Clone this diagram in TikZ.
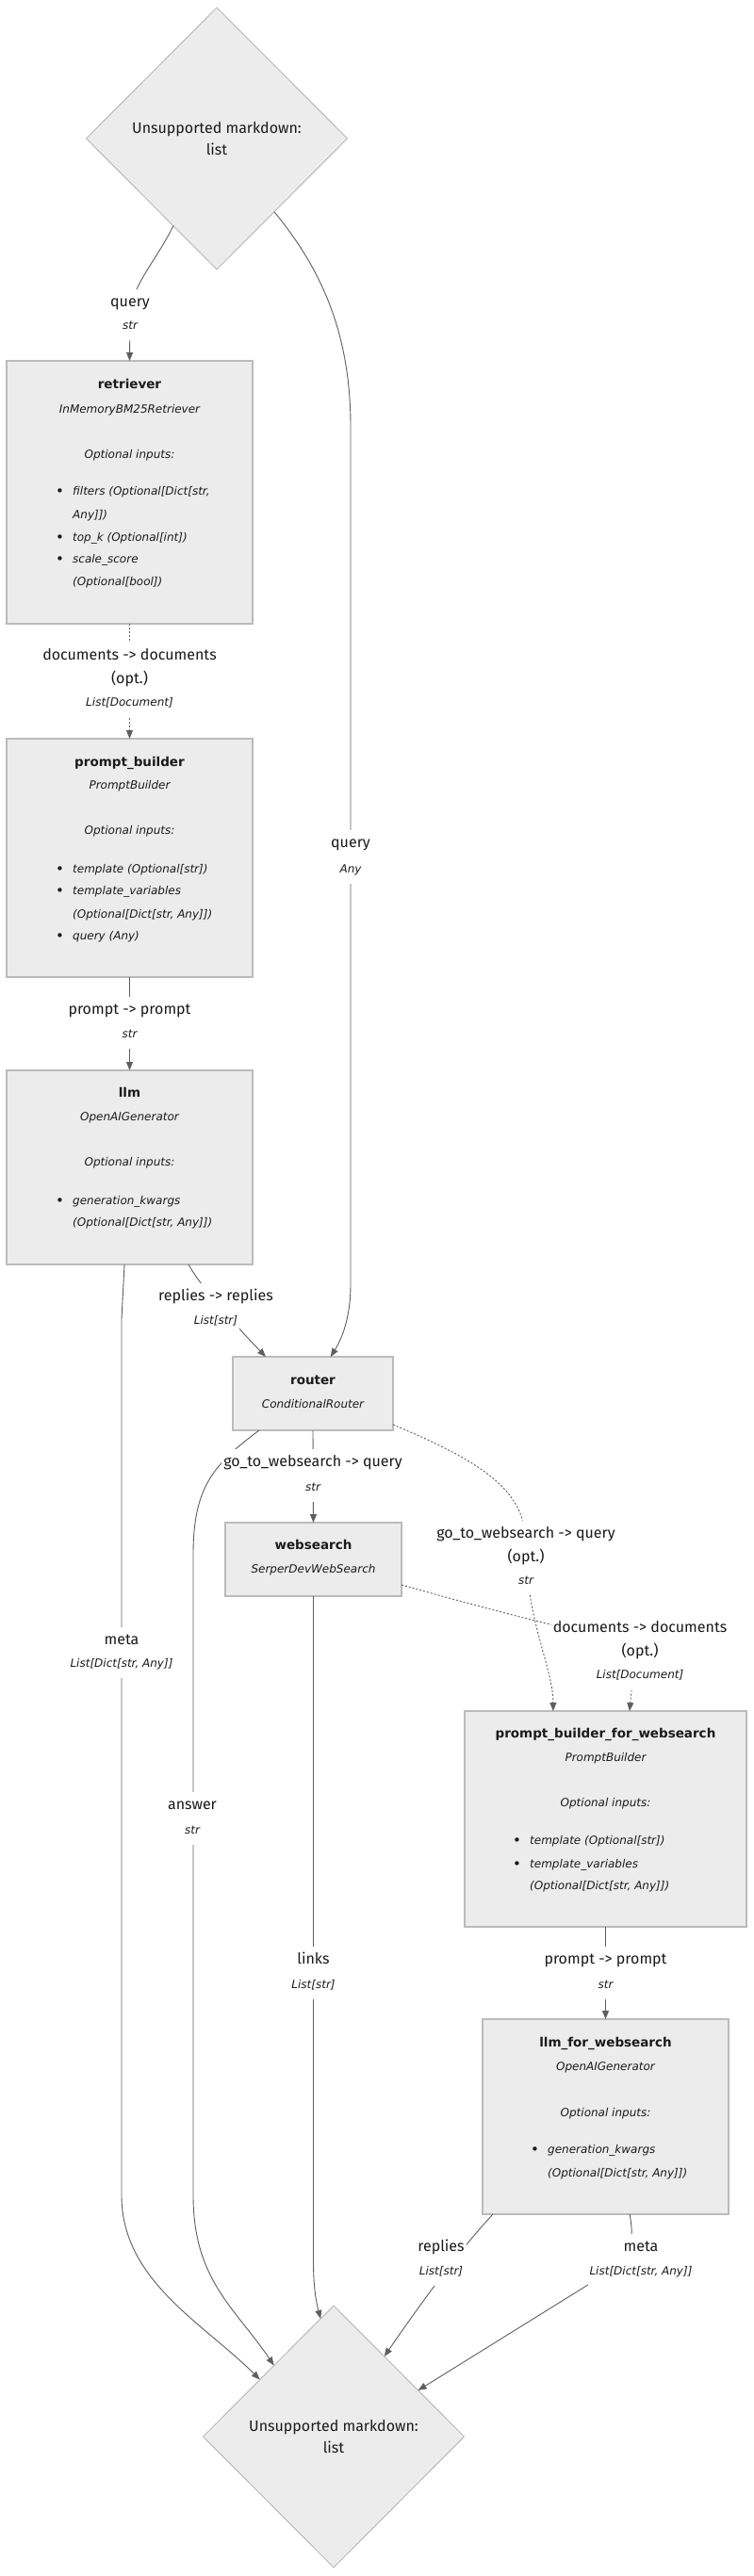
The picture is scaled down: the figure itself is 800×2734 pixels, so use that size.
\documentclass[tikz,border=0pt]{standalone}
\usepackage{fontspec}
\setmainfont{DejaVu Sans}
\newfontfamily\firafont{Fira Sans}
\usetikzlibrary{arrows.meta,shapes.geometric,calc}
\definecolor{nodefill}{HTML}{ECECEC}
\definecolor{nodeborder}{HTML}{BBBBBB}
\definecolor{edgecol}{HTML}{5F5F5F}
\definecolor{txt}{HTML}{1A1A1A}
\newcommand\myttl{\fontsize{13.5}{16}\selectfont\bfseries}
\newcommand\myit{\fontsize{12}{14}\selectfont\itshape}
\newcommand\mylbl{\firafont\fontsize{16}{23}\selectfont}
\newcommand\bul{\makebox[18pt][l]{\raisebox{-0.5pt}{\fontsize{15}{14}\selectfont\upshape •}}}
\begin{document}
\begin{tikzpicture}[x=1pt,y=-1pt,
  box/.style={draw=nodeborder, fill=nodefill, line width=1.3pt, rectangle, inner sep=0pt, outer sep=0pt},
  dia/.style={draw=nodeborder, fill=nodefill, line width=1pt, diamond, inner sep=0pt, outer sep=0pt,
     minimum width=277pt, minimum height=278pt, align=center, font=\mylbl, text=txt},
  ttl/.style={font=\myttl, text=txt, inner sep=0pt, anchor=mid},
  itc/.style={font=\myit, text=txt, inner sep=0pt, anchor=mid},
  itl/.style={font=\myit, text=txt, inner sep=0pt, anchor=mid west},
  lbl/.style={font=\mylbl, text=txt, fill=white, inner xsep=2pt, inner ysep=7pt, text height=12pt, text depth=5pt, anchor=mid},
  sublbl/.style={font=\myit, text=txt, fill=white, inner xsep=2pt, inner ysep=7pt, text height=12pt, text depth=4pt, anchor=mid},
  conn/.style={draw=edgecol, line width=0.9pt, -{Triangle[length=9pt,width=7pt]}},
  dconn/.style={conn, dash pattern=on 2pt off 2pt},
]
\useasboundingbox[fill=white] (0,0) rectangle (800,2734);

% ---------- nodes ----------
\node[dia] (dtop) at (230,147) {Unsupported markdown:\\list};
\node[dia] (dbot) at (354,2586) {Unsupported markdown:\\list};

\node[box, minimum width=261pt, minimum height=279pt] (retriever) at (137.5,522.5) {};
\node[box, minimum width=261pt, minimum height=253pt] (pb) at (137.5,910.5) {};
\node[box, minimum width=261pt, minimum height=206pt] (llm) at (137.5,1239) {};
\node[box, minimum width=170pt, minimum height=78pt] (router) at (332,1479) {};
\node[box, minimum width=187pt, minimum height=78pt] (websearch) at (332.5,1655) {};
\node[box, minimum width=299pt, minimum height=229pt] (pbw) at (642.5,1930.5) {};
\node[box, minimum width=261pt, minimum height=207pt] (lfw) at (642.5,2246.5) {};

% retriever text
\node[ttl] (rt1) at (137.5,410) {retriever};
\node[itc] (rt2) at (137.5,436) {InMemoryBM25Retriever};
\node[itc] (rt3) at (137.5,484) {Optional inputs:};
\node[itl] (rt4) at (59,523) {\bul filters (Optional[Dict[str,};
\node[itl] (rt5) at (77,548) {Any]])};
\node[itl] (rt6) at (59,572) {\bul top\_k (Optional[int])};
\node[itl] (rt7) at (59,595) {\bul scale\_score};
\node[itl] (rt8) at (77,619) {(Optional[bool])};

% prompt_builder text
\node[ttl] (pt1) at (137.5,811) {prompt\_builder};
\node[itc] (pt2) at (137.5,835) {PromptBuilder};
\node[itc] (pt3) at (137.5,883) {Optional inputs:};
\node[itl] (pt4) at (59,924) {\bul template (Optional[str])};
\node[itl] (pt5) at (59,947) {\bul template\_variables};
\node[itl] (pt6) at (77,972) {(Optional[Dict[str, Any]])};
\node[itl] (pt7) at (59,995) {\bul query (Any)};

% llm text
\node[ttl] (lt1) at (137.5,1162) {llm};
\node[itc] (lt2) at (137.5,1187) {OpenAIGenerator};
\node[itc] (lt3) at (137.5,1235) {Optional inputs:};
\node[itl] (lt4) at (59,1276) {\bul generation\_kwargs};
\node[itl] (lt5) at (77,1299) {(Optional[Dict[str, Any]])};

% router / websearch text
\node[ttl] (ot1) at (332,1467) {router};
\node[itc] (ot2) at (332,1492) {ConditionalRouter};
\node[ttl] (wt1) at (332.5,1642) {websearch};
\node[itc] (wt2) at (332.5,1667) {SerperDevWebSearch};

% prompt_builder_for_websearch text
\node[ttl] (bt1) at (642.5,1842) {prompt\_builder\_for\_websearch};
\node[itc] (bt2) at (642.5,1867) {PromptBuilder};
\node[itc] (bt3) at (642.5,1915) {Optional inputs:};
\node[itl] (bt4) at (544,1955) {\bul template (Optional[str])};
\node[itl] (bt5) at (544,1980) {\bul template\_variables};
\node[itl] (bt6) at (562,2003) {(Optional[Dict[str, Any]])};

% llm_for_websearch text
\node[ttl] (ft1) at (642.5,2170) {llm\_for\_websearch};
\node[itc] (ft2) at (642.5,2195) {OpenAIGenerator};
\node[itc] (ft3) at (642.5,2244) {Optional inputs:};
\node[itl] (ft4) at (563,2283) {\bul generation\_kwargs};
\node[itl] (ft5) at (581,2308) {(Optional[Dict[str, Any]])};

% ---------- connectors ----------
\draw[conn] ($(dtop.west)!0.667!(dtop.south)$) .. controls (165,278) and (138,305) .. (138,335) -- (retriever.north);
\draw[conn] ($(dtop.east)!0.56!(dtop.south)$) .. controls (345,290) and (372,360) .. (372,453) -- (372,1363)
   .. controls (372,1400) and (362,1422) .. ($(router.north west)!0.61!(router.north east)$);
\draw[dconn] (retriever.south) -- (pb.north);
\draw[conn] (pb.south) -- (llm.north);
\draw[conn] ($(llm.south west)!0.74!(llm.south east)$) .. controls (212,1365) and (255,1412) .. ($(router.north west)!0.206!(router.north east)$);
\draw[conn] ($(llm.south west)!0.479!(llm.south east)$) -- (129,1400) -- (129,2330)
   .. controls (129,2420) and (215,2465) .. ($(dbot.west)!0.435!(dbot.north)$);
\draw[conn] ($(router.south west)!0.165!(router.south east)$) .. controls (225,1555) and (205,1580) .. (205,1650) -- (205,2330)
   .. controls (205,2420) and (250,2450) .. ($(dbot.west)!0.543!(dbot.north)$);
\draw[conn] (router.south) -- (websearch.north);
\draw[dconn] ($(router.south east)+(0,-6)$) .. controls (520,1555) and (558,1585) .. (558,1640)
   .. controls (558,1720) and (587,1770) .. ($(pbw.north west)!0.314!(pbw.north east)$);
\draw[dconn] ($(websearch.south east)+(0,-12)$) .. controls (560,1720) and (640,1738) .. (671,1742)
   -- (670,1795) -- ($(pbw.north west)!0.585!(pbw.north east)$);
\draw[conn] (websearch.south) -- (332.5,2400) .. controls (332.5,2430) and (336,2445) .. ($(dbot.west)!0.9!(dbot.north)$);
\draw[conn] (pbw.south) -- (lfw.north);
\draw[conn] ($(lfw.south west)!0.042!(lfw.south east)$) .. controls (495,2380) and (460,2425) .. ($(dbot.north)!0.388!(dbot.east)$);
\draw[conn] ($(lfw.south west)!0.598!(lfw.south east)$) .. controls (675,2385) and (665,2405) .. (627,2423)
   -- ($(dbot.north)!0.647!(dbot.east)$);

% ---------- labels ----------
\node[lbl] (e1a) at (138,323) {query};
\node[sublbl] (e1b) at (138,347) {str};
\node[lbl] (e2a) at (372,897) {query};
\node[sublbl] (e2b) at (372,924) {Any};
\node[lbl] (e3a) at (137.5,698) {documents -> documents};
\node[lbl] (e3b) at (137.5,723) {(opt.)};
\node[sublbl] (e3c) at (137.5,747) {List[Document]};
\node[lbl] (e4a) at (137.5,1074) {prompt -> prompt};
\node[sublbl] (e4b) at (137.5,1099) {str};
\node[lbl] (e5a) at (229,1378) {replies -> replies};
\node[sublbl] (e5b) at (229,1403) {List[str]};
\node[lbl] (e6a) at (129,1743) {meta};
\node[sublbl] (e6b) at (129,1767) {List[Dict[str, Any]]};
\node[lbl] (e7a) at (204,1918) {answer};
\node[sublbl] (e7b) at (204,1944) {str};
\node[lbl] (e8a) at (332,1554) {go\_to\_websearch -> query};
\node[sublbl] (e8b) at (332,1580) {str};
\node[lbl] (e9a) at (558,1630) {go\_to\_websearch -> query};
\node[lbl] (e9b) at (558,1655) {(opt.)};
\node[sublbl] (e9c) at (558,1679) {str};
\node[lbl] (e10a) at (679,1730) {documents -> documents};
\node[lbl] (e10b) at (679,1755) {(opt.)};
\node[sublbl] (e10c) at (679,1779) {List[Document]};
\node[lbl] (e11a) at (332.5,2082) {links};
\node[sublbl] (e11b) at (332.5,2108) {List[str]};
\node[lbl] (e12a) at (642.5,2082) {prompt -> prompt};
\node[sublbl] (e12b) at (642.5,2108) {str};
\node[lbl] (e13a) at (468,2387) {replies};
\node[sublbl] (e13b) at (468,2412) {List[str]};
\node[lbl] (e14a) at (680,2387) {meta};
\node[sublbl] (e14b) at (680,2412) {List[Dict[str, Any]]};
\end{tikzpicture}
\end{document}
